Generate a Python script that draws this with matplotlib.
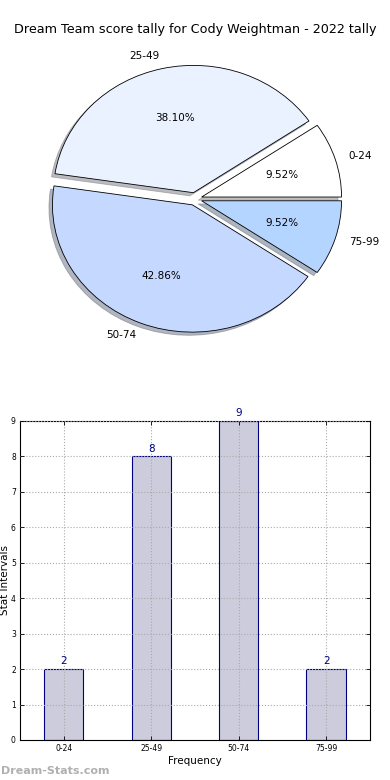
import matplotlib
matplotlib.use("Agg")
import matplotlib.pyplot as plt

# data
intervals = ['0-24', '25-49', '50-74', '75-99']
counts = [2, 8, 9, 2]
pie_colors = ['#ffffff', '#ebf2ff', '#c5d8ff', '#b4d5ff']
yticks = list(range(0, 10))

title = 'Dream Team score tally for Cody Weightman - 2022 tally'

fig = plt.figure(figsize=(3.9, 7.8), dpi=100)

# pie on top (old-style elliptical pie)
ax1 = fig.add_axes([0.0513, 0.541, 0.897, 0.408])
wedges, texts, autotexts = ax1.pie(counts, labels=intervals, colors=pie_colors,
                                   explode=[0.05] * 4, autopct='%.2f%%',
                                   shadow={'ox': -0.018, 'oy': -0.018, 'shade': 0.5},
                                   startangle=0,
                                   wedgeprops={'edgecolor': 'black', 'linewidth': 0.6},
                                   textprops={'fontsize': 7.5})
ax1.set_aspect('auto')
ax1.set_xlim(-1.25, 1.25)
ax1.set_ylim(-1.25, 1.25)
ax1.set_frame_on(False)
ax1.set_xticks([])
ax1.set_yticks([])
fig.text(0.5, 0.962, title, ha='center', va='center', fontsize=9.2)

# bars at the bottom
ax2 = fig.add_axes([0.0513, 0.0513, 0.897, 0.409])
x = list(range(len(intervals)))
bars = ax2.bar(x, counts, width=0.45, color='#ccccdd', edgecolor='navy', linewidth=0.8)
for xi, c in zip(x, counts):
    ax2.text(xi, c + 0.08, str(c), ha='center', va='bottom', color='navy', fontsize=7.5)
ax2.set_xlim(-0.5, 3.5)
ax2.set_ylim(0, 9)
ax2.set_xticks(x)
ax2.set_xticklabels(intervals, fontsize=5.5)
ax2.set_yticks(yticks)
ax2.set_yticklabels([str(v) for v in yticks], fontsize=5.5)
ax2.tick_params(direction='in', top=True, right=True, length=3, width=0.6, pad=3)
ax2.grid(True, linestyle=':', color='#aaaaaa', linewidth=0.8)
ax2.set_axisbelow(False)
ax2.set_xlabel('Frequency', fontsize=7.5, labelpad=2)
ax2.set_ylabel('Stat Intervals', fontsize=7.5, labelpad=1)
for s in ax2.spines.values():
    s.set_linewidth(0.8)

fig.text(0.002, 0.012, 'Dream-Stats.com', ha='left', va='center',
         fontsize=8, fontweight='bold', color='#b0b0b0')

fig.savefig('out.png', dpi=100)
